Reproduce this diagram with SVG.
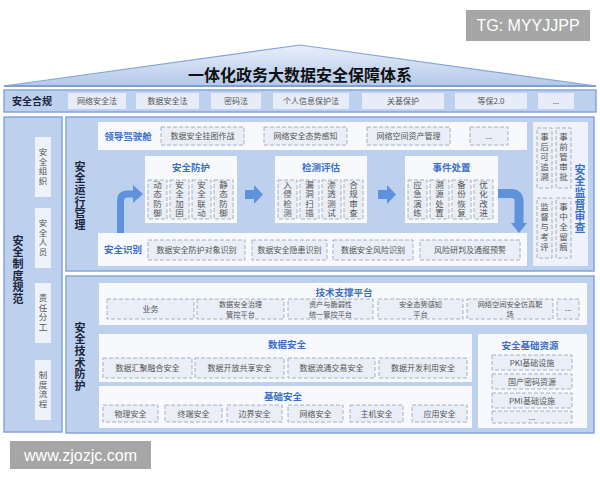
<svg xmlns="http://www.w3.org/2000/svg" width="600" height="480" viewBox="0 0 600 480">
<defs>
<linearGradient id="roofG" x1="0" y1="0" x2="0" y2="1">
<stop offset="0" stop-color="#e8eff9"/>
<stop offset="1" stop-color="#b3c8ea"/>
</linearGradient>
<style>
text{font-family:"Noto Sans CJK SC","Noto Sans",sans-serif;}
.panel{fill:#bdd0ee;stroke:#86a5d8;stroke-width:1.5;}
.white{fill:#f7f9fd;}
.soft{fill:#eef3fb;}
.dash{fill:#e9eef7;stroke:#9ea9ba;stroke-width:0.9;stroke-dasharray:4 2;}
.item{fill:#e6edf8;}
.t{font-size:8px;fill:#555;text-anchor:middle;}
.t2{font-size:7.2px;fill:#555;text-anchor:middle;}
.v{writing-mode:vertical-rl;text-anchor:middle;}
.tv{font-size:8.5px;fill:#555;letter-spacing:1px;}
.tv5{font-size:8.5px;fill:#555;letter-spacing:1.5px;}
.blue{font-size:9.5px;font-weight:bold;fill:#3b70c6;text-anchor:middle;}
.dark{font-size:11px;font-weight:bold;fill:#1b2640;letter-spacing:0.6px;}
.arr{fill:none;stroke:#5f92dc;}
.arrh{fill:#5f92dc;}
.wm{fill:#a6a6a6;}
.wmt{font-family:"Liberation Sans",Arial,sans-serif;font-size:16px;fill:#fff;text-anchor:middle;}
</style>
</defs>
<rect width="600" height="480" fill="#fff"/>

<g id="watermark-tg"><rect class="wm" x="466" y="10" width="124" height="31"/><text class="wmt" x="528" y="31">TG: MYYJJPP</text></g>
<g id="watermark-www"><rect class="wm" x="10" y="441" width="141" height="28"/><text class="wmt" x="80.5" y="461">www.zjozjc.com</text></g>

<g id="roof">
<polygon points="4,86 300,45 596,86" fill="url(#roofG)" stroke="#86a5d8" stroke-width="1.2"/>
<line x1="4" y1="86" x2="596" y2="86" stroke="#7f9fd4" stroke-width="2"/>
<text x="300" y="81" style="font-size:16px;font-weight:bold;fill:#111;text-anchor:middle;">一体化政务大数据安全保障体系</text>
</g>

<g id="compliance">
<rect class="panel" x="4" y="90" width="592" height="22"/>
<text x="32" y="105" style="font-size:10px;font-weight:bold;fill:#1b2640;text-anchor:middle;">安全合规</text>
<rect class="item" x="68" y="93" width="58" height="16"/><text class="t" x="97" y="104">网络安全法</text>
<rect class="item" x="136" y="93" width="63" height="16"/><text class="t" x="167.5" y="104">数据安全法</text>
<rect class="item" x="211" y="93" width="50" height="16"/><text class="t" x="236" y="104">密码法</text>
<rect class="item" x="273" y="93" width="76" height="16"/><text class="t" x="311" y="104">个人信息保护法</text>
<rect class="item" x="362" y="93" width="82" height="16"/><text class="t" x="403" y="104">关基保护</text>
<rect class="item" x="455" y="93" width="72" height="16"/><text class="t" x="491" y="104">等保2.0</text>
<rect class="item" x="538" y="93" width="36" height="16"/><text class="t" x="556" y="104">...</text>
</g>

<g id="system-norms">
<rect class="panel" x="4" y="117" width="58" height="315"/>
<text class="dark v" x="18" y="270">安全制度规范</text>
<g id="norm-org"><rect class="soft" x="35" y="137" width="16" height="60"/><text class="tv v" x="43" y="167">安全组织</text></g>
<g id="norm-staff"><rect class="soft" x="35" y="208" width="16" height="60"/><text class="tv v" x="43" y="238">安全人员</text></g>
<g id="norm-duty"><rect class="soft" x="35" y="283" width="16" height="60"/><text class="tv v" x="43" y="313">责任分工</text></g>
<g id="norm-flow"><rect class="soft" x="35" y="360" width="16" height="60"/><text class="tv v" x="43" y="390">制度流程</text></g>
</g>

<g id="ops-panel">
<rect class="panel" x="66" y="117" width="528" height="154"/>
<text class="dark v" x="80" y="196">安全运行管理</text>
</g>

<g id="cockpit">
<rect class="white" x="98" y="122" width="429" height="28"/>
<text class="blue" x="128" y="139.5">领导驾驶舱</text>
<rect class="dash" x="161" y="127" width="83" height="18"/><text class="t" x="202.5" y="139">数据安全挂图作战</text>
<rect class="dash" x="264" y="127" width="83" height="18"/><text class="t" x="305.5" y="139">网络安全态势感知</text>
<rect class="dash" x="367" y="127" width="83" height="18"/><text class="t" x="408.5" y="139">网络空间资产管理</text>
<rect class="dash" x="470" y="127" width="38" height="18"/><text class="t" x="489" y="139">...</text>
</g>

<g id="protect">
<rect class="white" x="145" y="156" width="92" height="67"/>
<text class="blue" x="191" y="171">安全防护</text>
<rect class="dash" x="148" y="180" width="19" height="39"/><text class="tv v" x="157.5" y="199.5">动态防御</text>
<rect class="dash" x="170" y="180" width="19" height="39"/><text class="tv v" x="179.5" y="199.5">安全加固</text>
<rect class="dash" x="192" y="180" width="19" height="39"/><text class="tv v" x="201.5" y="199.5">安全联动</text>
<rect class="dash" x="214" y="180" width="19" height="39"/><text class="tv v" x="223.5" y="199.5">静态防御</text>
</g>

<g id="detect">
<rect class="white" x="275" y="156" width="92" height="67"/>
<text class="blue" x="321" y="171">检测评估</text>
<rect class="dash" x="278" y="180" width="19" height="39"/><text class="tv v" x="287.5" y="199.5">入侵检测</text>
<rect class="dash" x="300" y="180" width="19" height="39"/><text class="tv v" x="309.5" y="199.5">漏洞扫描</text>
<rect class="dash" x="322" y="180" width="19" height="39"/><text class="tv v" x="331.5" y="199.5">渗透测试</text>
<rect class="dash" x="344" y="180" width="19" height="39"/><text class="tv v" x="353.5" y="199.5">合规审查</text>
</g>

<g id="incident">
<rect class="white" x="405" y="156" width="93" height="67"/>
<text class="blue" x="451.5" y="171">事件处置</text>
<rect class="dash" x="408" y="180" width="19" height="39"/><text class="tv v" x="417.5" y="199.5">应急演练</text>
<rect class="dash" x="430" y="180" width="19" height="39"/><text class="tv v" x="439.5" y="199.5">溯源处置</text>
<rect class="dash" x="452" y="180" width="19" height="39"/><text class="tv v" x="461.5" y="199.5">备份恢复</text>
<rect class="dash" x="474" y="180" width="19" height="39"/><text class="tv v" x="483.5" y="199.5">优化改进</text>
</g>

<g id="identify">
<rect class="white" x="98" y="233" width="429" height="33"/>
<text class="blue" x="123" y="253">安全识别</text>
<rect class="dash" x="148" y="240" width="97" height="20"/><text class="t" x="196.5" y="253">数据安全防护对象识别</text>
<rect class="dash" x="252" y="240" width="75" height="20"/><text class="t" x="289.5" y="253">数据安全隐患识别</text>
<rect class="dash" x="333" y="240" width="80" height="20"/><text class="t" x="373" y="253">数据安全风险识别</text>
<rect class="dash" x="420" y="240" width="100" height="20"/><text class="t" x="470" y="253">风险研判及通报预警</text>
</g>

<g id="supervision">
<rect class="soft" x="533" y="122" width="55" height="144"/>
<rect class="dash" x="537" y="128" width="15" height="60"/><text class="tv5 v" x="544.5" y="158">事后可追溯</text>
<rect class="dash" x="556" y="128" width="15" height="60"/><text class="tv5 v" x="563.5" y="158">事前管审批</text>
<rect class="dash" x="537" y="198" width="15" height="60"/><text class="tv5 v" x="544.5" y="228">监督与考评</text>
<rect class="dash" x="556" y="198" width="15" height="60"/><text class="tv5 v" x="563.5" y="228">事中全留痕</text>
<text class="dark v" x="580" y="199" style="fill:#3b70c6;">安全监督审查</text>
</g>

<g id="connectors">
<path class="arr" d="M120.5,233 V201 Q120.5,194 127.5,194 H134" stroke-width="7"/>
<polygon class="arrh" points="133,185 143,194 133,203"/>
<rect class="arrh" x="245" y="190" width="10" height="9"/>
<polygon class="arrh" points="254,185 263,194.5 254,204"/>
<rect class="arrh" x="378" y="190" width="10" height="9"/>
<polygon class="arrh" points="387,185 396,194.5 387,204"/>
<path class="arr" d="M498,193.5 H511 Q519,193.5 519,201.5 V224" stroke-width="9"/>
<polygon class="arrh" points="511,223 527,223 519,233"/>
</g>

<g id="tech-panel">
<rect class="panel" x="66" y="276" width="528" height="157"/>
<text class="dark v" x="80" y="357">安全技术防护</text>
</g>

<g id="tech-platform">
<rect class="white" x="99" y="283" width="488" height="42"/>
<text class="blue" x="344" y="295.5">技术支撑平台</text>
<rect class="dash" x="107" y="299" width="87" height="20"/><text class="t" x="150.5" y="312">业务</text>
<rect class="dash" x="197" y="299" width="87" height="20"/><text class="t2" x="240.5" y="306.5">数据安全治理</text><text class="t2" x="240.5" y="316.5">管控平台</text>
<rect class="dash" x="288" y="299" width="85" height="20"/><text class="t2" x="330.5" y="306.5">资产与脆弱性</text><text class="t2" x="330.5" y="316.5">统一管控平台</text>
<rect class="dash" x="378" y="299" width="85" height="20"/><text class="t2" x="420.5" y="306.5">安全态势感知</text><text class="t2" x="420.5" y="316.5">平台</text>
<rect class="dash" x="467" y="299" width="86" height="20"/><text class="t2" x="510" y="306.5">网络空间安全仿真靶</text><text class="t2" x="510" y="316.5">场</text>
<rect class="dash" x="557" y="299" width="22" height="20"/><text class="t" x="568" y="311">...</text>
</g>

<g id="data-security">
<rect class="white" x="99" y="334" width="373" height="48"/>
<text class="blue" x="287" y="348">数据安全</text>
<rect class="dash" x="103" y="358" width="89" height="20"/><text class="t" x="147.5" y="371">数据汇聚融合安全</text>
<rect class="dash" x="195" y="358" width="89" height="20"/><text class="t" x="239.5" y="371">数据开放共享安全</text>
<rect class="dash" x="288" y="358" width="87" height="20"/><text class="t" x="331.5" y="371">数据流通交易安全</text>
<rect class="dash" x="379" y="358" width="88" height="20"/><text class="t" x="423" y="371">数据开发利用安全</text>
</g>

<g id="base-security">
<rect class="white" x="99" y="386" width="373" height="42"/>
<text class="blue" x="283" y="400">基础安全</text>
<rect class="dash" x="103" y="405" width="55" height="17"/><text class="t" x="130.5" y="416.5">物理安全</text>
<rect class="dash" x="165" y="405" width="57" height="17"/><text class="t" x="193.5" y="416.5">终端安全</text>
<rect class="dash" x="227" y="405" width="55" height="17"/><text class="t" x="254.5" y="416.5">边界安全</text>
<rect class="dash" x="288" y="405" width="55" height="17"/><text class="t" x="315.5" y="416.5">网络安全</text>
<rect class="dash" x="350" y="405" width="53" height="17"/><text class="t" x="376.5" y="416.5">主机安全</text>
<rect class="dash" x="412" y="405" width="55" height="17"/><text class="t" x="439.5" y="416.5">应用安全</text>
</g>

<g id="base-resources">
<rect class="white" x="478" y="334" width="109" height="94"/>
<text class="blue" x="530" y="349">安全基础资源</text>
<rect class="dash" x="492" y="355" width="80" height="15"/><text class="t" x="532" y="365.5">PKI基础设施</text>
<rect class="dash" x="492" y="374" width="80" height="15"/><text class="t" x="532" y="384.5">国产密码资源</text>
<rect class="dash" x="492" y="393" width="80" height="15"/><text class="t" x="532" y="403.5">PMI基础设施</text>
<rect class="dash" x="492" y="411" width="80" height="12"/><text class="t" x="532" y="420">...</text>
</g>
</svg>
